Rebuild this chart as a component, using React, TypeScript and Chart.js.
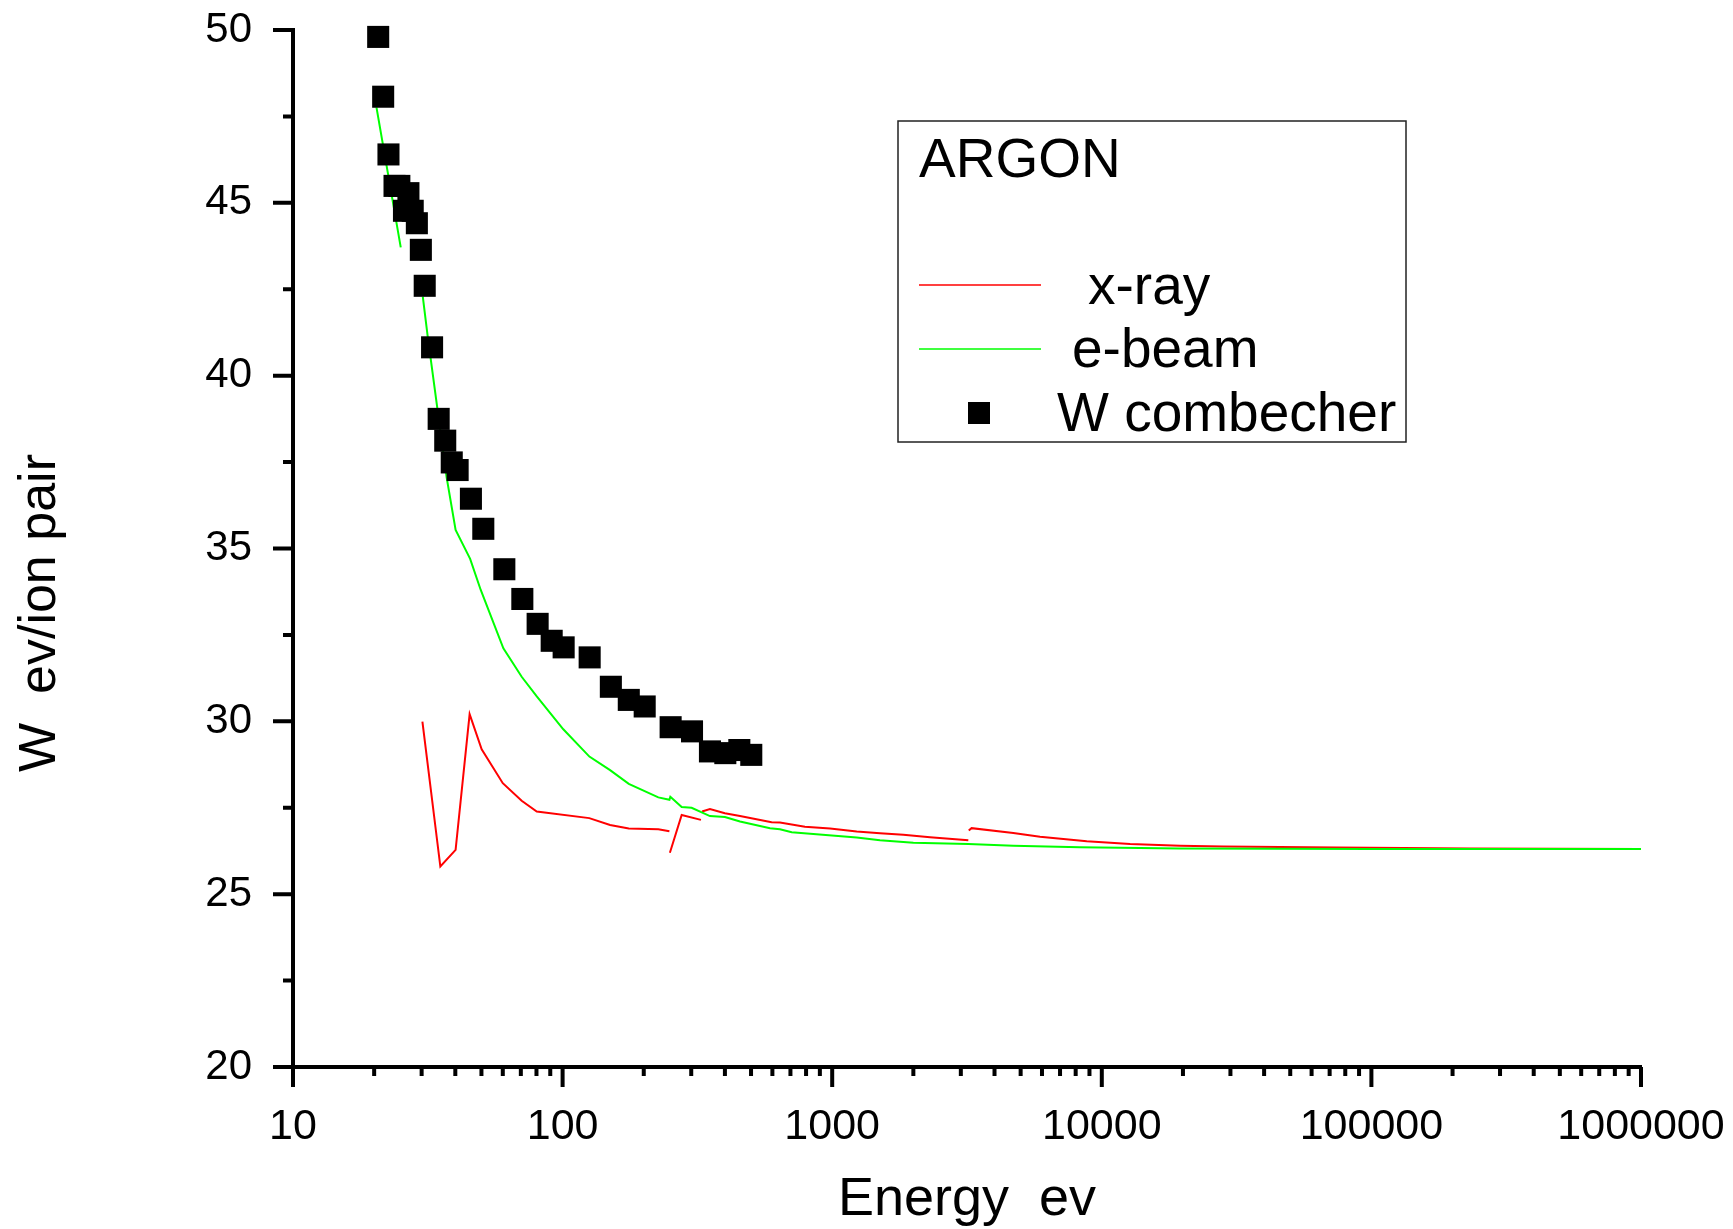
import React, { useEffect, useRef } from 'react';
import { Chart, registerables } from 'chart.js';

Chart.register(...registerables);

const FONT = '"Liberation Sans", Arial, Helvetica, sans-serif';

// ---- data (energy in eV, W in eV/ion pair) ----
const combEnergy = [20.7, 21.6, 22.6, 23.8, 24.8, 25.8, 26.8, 27.8, 28.8, 29.8, 30.8, 32.8, 34.7, 36.7, 38.8, 40.8, 45.7, 50.8, 60.8, 70.9, 80.8, 91.1, 100.9, 126, 151, 176, 201.6, 251.6, 302, 352, 401.4, 452.4, 501];
const combW = [49.8, 48.07, 46.4, 45.49, 45.49, 44.77, 45.28, 44.77, 44.41, 43.64, 42.6, 40.82, 38.75, 38.12, 37.49, 37.27, 36.44, 35.57, 34.4, 33.54, 32.82, 32.33, 32.14, 31.85, 31.0, 30.62, 30.43, 29.83, 29.71, 29.13, 29.08, 29.17, 29.03];

const ebeamEnergy = [20.4, 25.1, 27, 30.3, 31.6, 32.4, 34.3, 37.1, 40.1, 45.4, 49.7, 60.3, 70.5, 80.2, 100.6, 125.7, 150, 176, 226.5, 249, 251, 276.5, 301, 352, 400, 455, 588, 640, 707.6, 851, 1233, 1504, 2000, 3198, 4697, 8300, 19500, 100000, 1000000];
const ebeamW = [47.76, 43.71, null, 42.29, 41.13, 40.5, 39.06, 37.08, 35.54, 34.7, 33.8, 32.11, 31.29, 30.72, 29.77, 28.98, 28.59, 28.19, 27.8, 27.73, 27.82, 27.52, 27.5, 27.26, 27.23, 27.1, 26.91, 26.88, 26.79, 26.74, 26.64, 26.56, 26.49, 26.45, 26.4, 26.36, 26.32, 26.31, 26.31];

const xrayEnergy = [30.2, 35.2, 40.1, 45.2, 50.1, 60.0, 70.5, 80.2, 125.6, 150, 176, 226.5, 249, 249.5, 250, 276.5, 326, 327, 329, 352, 400, 455, 596, 640, 792, 982, 1233, 1504, 1836, 2306, 3198, 3200, 3210, 3289, 4697, 5900, 8790, 12740, 19500, 28200, 74300, 232000, 1000000];
const xrayW = [29.99, 25.8, 26.28, 30.21, 29.19, 28.21, 27.7, 27.39, 27.2, 27.0, 26.9, 26.88, 26.82, null, 26.2, 27.29, 27.15, null, 27.39, 27.46, 27.34, 27.26, 27.08, 27.07, 26.95, 26.9, 26.81, 26.76, 26.72, 26.65, 26.56, null, 26.84, 26.91, 26.77, 26.66, 26.53, 26.45, 26.4, 26.38, 26.35, 26.32, 26.31];

const seriesLabels = ['x-ray', 'e-beam', 'W combecher'];
const legendTitle = 'ARGON';
const xTitle = 'Energy  ev';
const yTitle = 'W  ev/ion pair';
const yMin = 20;
const yMax = 50;
const yStep = 5;
const yMinorStep = 2.5;
const xMin = 10;
const xMax = 1000000;

const pts = (xs: number[], ys: (number | null)[]) => xs.map((x, i) => ({ x, y: ys[i] }));

const axisTicksPlugin = {
  id: 'axisTicks',
  afterDraw(chart: any) {
    const { ctx, chartArea, scales } = chart;
    const xs = scales.x;
    const ys = scales.y;
    ctx.save();
    ctx.strokeStyle = '#000';
    ctx.lineWidth = 4;
    ctx.lineCap = 'butt';
    ctx.beginPath();
    for (let d = 1; d <= 6; d++) {
      for (let k = 1; k <= 9; k++) {
        const v = k * Math.pow(10, d);
        if (v > xMax * 1.0001) break;
        const px = xs.getPixelForValue(v);
        const len = k === 1 ? 20 : 9;
        ctx.moveTo(px, chartArea.bottom);
        ctx.lineTo(px, chartArea.bottom + len);
      }
    }
    for (let v = yMin; v <= yMax + 1e-9; v += yMinorStep) {
      const py = ys.getPixelForValue(v);
      const major = Math.abs(v / yStep - Math.round(v / yStep)) < 1e-9;
      const len = major ? 20 : 10;
      ctx.moveTo(chartArea.left, py);
      ctx.lineTo(chartArea.left - len, py);
    }
    ctx.stroke();
    ctx.restore();
  },
};

const yTitlePlugin = {
  id: 'yTitle',
  afterDraw(chart: any) {
    const { ctx } = chart;
    ctx.save();
    ctx.translate(55, 613);
    ctx.rotate(-Math.PI / 2);
    ctx.fillStyle = '#000';
    ctx.font = `52px ${FONT}`;
    ctx.textAlign = 'center';
    ctx.textBaseline = 'alphabetic';
    ctx.fillText(yTitle, 0, 0);
    ctx.restore();
  },
};

const legendPlugin = {
  id: 'argonLegend',
  afterDraw(chart: any) {
    const { ctx } = chart;
    const ds = chart.data.datasets;
    ctx.save();
    ctx.strokeStyle = '#222';
    ctx.lineWidth = 1.5;
    ctx.strokeRect(898, 121, 508, 321);
    ctx.fillStyle = '#000';
    ctx.font = `55px ${FONT}`;
    ctx.textBaseline = 'alphabetic';
    ctx.textAlign = 'left';
    ctx.fillText(legendTitle, 919, 177);
    // x-ray
    ctx.lineWidth = 1.5;
    ctx.strokeStyle = ds[2].borderColor;
    ctx.beginPath();
    ctx.moveTo(919, 285);
    ctx.lineTo(1041, 285);
    ctx.stroke();
    ctx.fillText(seriesLabels[0], 1088, 304);
    // e-beam
    ctx.strokeStyle = ds[1].borderColor;
    ctx.beginPath();
    ctx.moveTo(919, 349);
    ctx.lineTo(1041, 349);
    ctx.stroke();
    ctx.fillText(seriesLabels[1], 1072, 367);
    // W combecher
    ctx.fillStyle = ds[0].backgroundColor;
    ctx.fillRect(968, 402, 22, 22);
    ctx.fillStyle = '#000';
    ctx.fillText(seriesLabels[2], 1057, 431);
    ctx.restore();
  },
};

export default function App() {
  const canvasRef = useRef<HTMLCanvasElement | null>(null);

  useEffect(() => {
    if (!canvasRef.current) return;
    const chart = new Chart(canvasRef.current, {
      type: 'scatter',
      data: {
        datasets: [
          {
            label: seriesLabels[2],
            data: pts(combEnergy, combW),
            showLine: false,
            pointStyle: 'rect',
            pointRadius: 15.6,
            pointBorderWidth: 0,
            pointHoverRadius: 15.6,
            backgroundColor: '#000000',
            borderColor: '#000000',
            clip: false,
            order: 0,
          },
          {
            label: seriesLabels[1],
            data: pts(ebeamEnergy, ebeamW),
            showLine: true,
            spanGaps: false,
            borderColor: '#00ff00',
            backgroundColor: '#00ff00',
            borderWidth: 2,
            pointRadius: 0,
            pointHoverRadius: 0,
            tension: 0,
            clip: false,
            order: 1,
          },
          {
            label: seriesLabels[0],
            data: pts(xrayEnergy, xrayW),
            showLine: true,
            spanGaps: false,
            borderColor: '#ff0000',
            backgroundColor: '#ff0000',
            borderWidth: 2,
            pointRadius: 0,
            pointHoverRadius: 0,
            tension: 0,
            clip: false,
            order: 2,
          },
        ] as any,
      },
      options: {
        responsive: false,
        animation: false,
        events: [],
        layout: { autoPadding: false, padding: { top: 30, right: 92, bottom: 0, left: 0 } },
        plugins: {
          legend: { display: false },
          tooltip: { enabled: false },
          title: { display: false },
        },
        scales: {
          x: {
            type: 'logarithmic',
            position: 'bottom',
            min: xMin,
            max: xMax,
            grid: { display: false },
            border: { display: true, color: '#000', width: 4 },
            ticks: {
              autoSkip: false,
              maxRotation: 0,
              minRotation: 0,
              padding: 26,
              color: '#000',
              font: { family: FONT, size: 43 },
              callback: (v: any) => {
                const val = Number(v);
                const l = Math.log10(val);
                return Math.abs(l - Math.round(l)) < 1e-6 ? String(Math.round(val)) : '';
              },
            },
            title: {
              display: true,
              text: xTitle,
              color: '#000',
              font: { family: FONT, size: 54, lineHeight: 1 },
              padding: { top: 0, bottom: 2 },
            },
            afterFit: (s: any) => {
              s.height = 162;
              s.paddingLeft = 0;
              s.paddingRight = 0;
            },
          },
          y: {
            type: 'linear',
            position: 'left',
            min: yMin,
            max: yMax,
            grid: { display: false },
            border: { display: true, color: '#000', width: 4 },
            ticks: {
              stepSize: yStep,
              padding: 33,
              color: '#000',
              font: { family: FONT, size: 42 },
            },
            title: { display: false },
            afterFit: (s: any) => {
              s.width = 293;
              s.paddingTop = 0;
              s.paddingBottom = 0;
            },
          },
        } as any,
      },
      plugins: [axisTicksPlugin, yTitlePlugin, legendPlugin],
    });
    return () => chart.destroy();
  }, []);

  return (
    <div style={{ position: 'absolute', left: 0, top: 0, width: 1733, height: 1229, background: '#fff' }}>
      <canvas ref={canvasRef} width={1733} height={1229} style={{ display: 'block' }} />
    </div>
  );
}
